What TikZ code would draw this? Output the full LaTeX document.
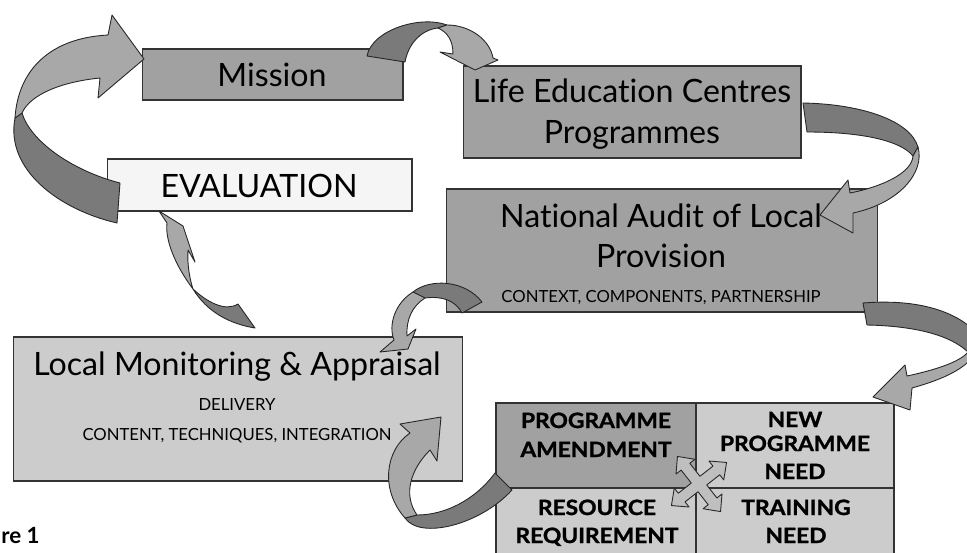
\documentclass[tikz,border=0pt]{standalone}
\usepackage{fontspec}
\setmainfont{Lato}[Ligatures=NoCommon]
\newfontfamily\gridfont{Lato}[FakeStretch=1.08, BoldFeatures={FakeBold=1.3}]
\usetikzlibrary{positioning}

\definecolor{boxgray}{gray}{0.63}
\definecolor{lightbox}{gray}{0.80}
\definecolor{evalwhite}{gray}{0.96}
\definecolor{ribbonlight}{gray}{0.66}
\definecolor{ribbondark}{gray}{0.48}
\definecolor{crossgray}{gray}{0.75}

\begin{document}
\begin{tikzpicture}[x=0.02cm, y=-0.02cm,
  panel/.style={draw=black!80, line width=0.6pt, inner sep=0pt},
  ribbon/.style={draw=black!85, line width=0.5pt, line join=round},
  txt/.style={anchor=base, inner sep=0pt},
  big/.style={txt, font=\fontsize{18.3}{22}\selectfont},
  small/.style={txt, font=\fontsize{9.5}{11}\selectfont},
  cell/.style={txt, font=\gridfont\bfseries\fontsize{12}{14}\selectfont}]
  \useasboundingbox (0,0) rectangle (967,552);

  % Boxes
  \node[panel, fill=boxgray, minimum width=5.22cm, minimum height=1.02cm] (mission) at (272.5,74.5) {};
  \node[panel, fill=boxgray, minimum width=6.76cm, minimum height=1.84cm] (lec) at (632,112) {};
  \node[panel, fill=evalwhite, minimum width=6.10cm, minimum height=1.04cm] (evaluation) at (259.5,185) {};
  \node[panel, fill=boxgray, minimum width=8.64cm, minimum height=2.46cm] (audit) at (662,250.5) {};
  \node[panel, fill=lightbox, minimum width=9.00cm, minimum height=2.88cm] (monitoring) at (238,409) {};

  % Outcome grid
  \node[panel, fill=boxgray, minimum width=4.00cm, minimum height=1.70cm] (amend) at (596,445.5) {};
  \node[panel, fill=lightbox, minimum width=3.96cm, minimum height=1.70cm] (newprog) at (795,445.5) {};
  \node[panel, fill=lightbox, minimum width=4.00cm, minimum height=1.68cm] (resource) at (596,530) {};
  \node[panel, fill=lightbox, minimum width=3.96cm, minimum height=1.68cm] (training) at (795,530) {};

  % Box texts
  \node[big] (missiontxt) at (272,86.5) {Mission};
  \node[big] (lectop) at (632,102) {Life Education Centres};
  \node[big] (lecbot) at (632,143) {Programmes};
  \node[big] (evaltxt) at (259,197) {EVALUATION};
  \node[big] (audittop) at (661,227) {National Audit of Local};
  \node[big] (auditbot) at (661,267) {Provision};
  \node[small] (auditsub) at (661,302) {CONTEXT, COMPONENTS, PARTNERSHIP};
  \node[big] (montxt) at (237,375) {Local Monitoring \& Appraisal};
  \node[small] (delivery) at (237,410) {DELIVERY};
  \node[small] (content) at (237,440) {CONTENT, TECHNIQUES, INTEGRATION};

  \node[cell] (amend1) at (596,428) {PROGRAMME};
  \node[cell] (amend2) at (596,457) {AMENDMENT};
  \node[cell] (new1) at (795,427) {NEW};
  \node[cell] (new2) at (795,451) {PROGRAMME};
  \node[cell] (new3) at (795,479) {NEED};
  \node[cell] (res1) at (597,515) {RESOURCE};
  \node[cell] (res2) at (597,543) {REQUIREMENT};
  \node[cell] (train1) at (796,515) {TRAINING};
  \node[cell] (train2) at (796,543) {NEED};

  \node[txt, anchor=base east, font=\bfseries\fontsize{12.7}{15}\selectfont] (fig) at (40,543) {re 1};

  % Ribbon: evaluation back up to mission
  \draw[ribbon, fill=ribbondark] (120,183) .. controls (70,170) and (30,140) .. (22,113) -- (15,118)
    .. controls (5,170) and (60,210) .. (117,223) -- cycle;
  \draw[ribbon, fill=ribbonlight] (15,118) .. controls (18,70) and (50,38) .. (108,35) -- (112,15) -- (144,59)
    -- (98,98) -- (100,78) .. controls (60,82) and (30,95) .. (22,113) -- cycle;

  % Ribbon: mission over to life education
  \draw[ribbon, fill=ribbondark] (367,56) .. controls (372,30) and (420,15) .. (447,25) -- (438,28)
    .. controls (420,30) and (408,45) .. (405,62) -- cycle;
  \draw[ribbon, fill=ribbonlight] (447,25) .. controls (470,25) and (490,40) .. (493,58) -- (498,60) -- (475,70)
    -- (440,52) -- (453,54) .. controls (453,40) and (447,32) .. (438,28) -- cycle;

  % Ribbon: life education down to the audit
  \draw[ribbon, fill=ribbondark] (803,103) .. controls (860,104) and (910,120) .. (918,147) -- (913,156)
    .. controls (900,140) and (860,132) .. (807,132) -- cycle;
  \draw[ribbon, fill=ribbonlight] (918,147) .. controls (925,172) and (900,203) .. (853,213) -- (853,233)
    -- (820,215) -- (848,180) -- (850,193) .. controls (885,186) and (912,172) .. (913,156) -- cycle;

  % Ribbon: audit round to the grid
  \draw[ribbon, fill=ribbondark] (863,303) .. controls (925,298) and (965,315) .. (982,340) -- (968,352)
    .. controls (950,335) and (915,326) .. (867,325) -- cycle;
  \draw[ribbon, fill=ribbonlight] (982,340) .. controls (975,368) and (940,380) .. (912,388) -- (910,410)
    -- (873,397) -- (905,365) -- (907,376) .. controls (935,370) and (960,362) .. (968,352) -- cycle;

  % Ribbon: audit down to monitoring
  \draw[ribbon, fill=ribbondark] (413,292) .. controls (430,278) and (465,280) .. (482,302) -- (462,313)
    .. controls (455,300) and (442,296) .. (425,298) -- cycle;
  \draw[ribbon, fill=ribbonlight] (413,292) .. controls (395,303) and (388,325) .. (394,340) -- (380,352)
    -- (408,349) -- (416,329) -- (407,336) .. controls (406,320) and (412,306) .. (425,298) -- cycle;

  % Ribbon: grid back to monitoring
  \draw[ribbon, fill=ribbondark] (495,473) .. controls (475,500) and (445,515) .. (417,515) -- (405,518)
    .. controls (420,540) and (480,525) .. (512,490) -- cycle;
  \draw[ribbon, fill=ribbonlight] (405,518) .. controls (380,490) and (385,450) .. (410,433) -- (400,424)
    -- (441,417) -- (437,461) -- (430,450) .. controls (410,470) and (403,495) .. (417,515) -- cycle;

  % Ribbon: monitoring up to evaluation
  \draw[ribbon, fill=ribbondark] (193,289) .. controls (207,312) and (230,324) .. (255,328) -- (238,304)
    .. controls (225,312) and (207,302) .. (193,289) -- cycle;
  \draw[ribbon, fill=ribbonlight] (193,289) .. controls (175,265) and (165,240) .. (167,223) -- (159,211)
    -- (183,226) -- (195,262) -- (188,250) .. controls (187,265) and (190,280) .. (193,289) -- cycle;

  % Four-way arrow in the middle of the grid
  \draw[ribbon, fill=crossgray, shift={(699,484)}, rotate=38]
    (5.5,5.5) -- (22,5.5) -- (22,12) -- (35,0) -- (22,-12) -- (22,-5.5) -- (5.5,-5.5)
    -- (5.5,-22) -- (12,-22) -- (0,-35) -- (-12,-22) -- (-5.5,-22) -- (-5.5,-5.5)
    -- (-22,-5.5) -- (-22,-12) -- (-35,0) -- (-22,12) -- (-22,5.5) -- (-5.5,5.5)
    -- (-5.5,22) -- (-12,22) -- (0,35) -- (12,22) -- (5.5,22) -- cycle;
\end{tikzpicture}
\end{document}
